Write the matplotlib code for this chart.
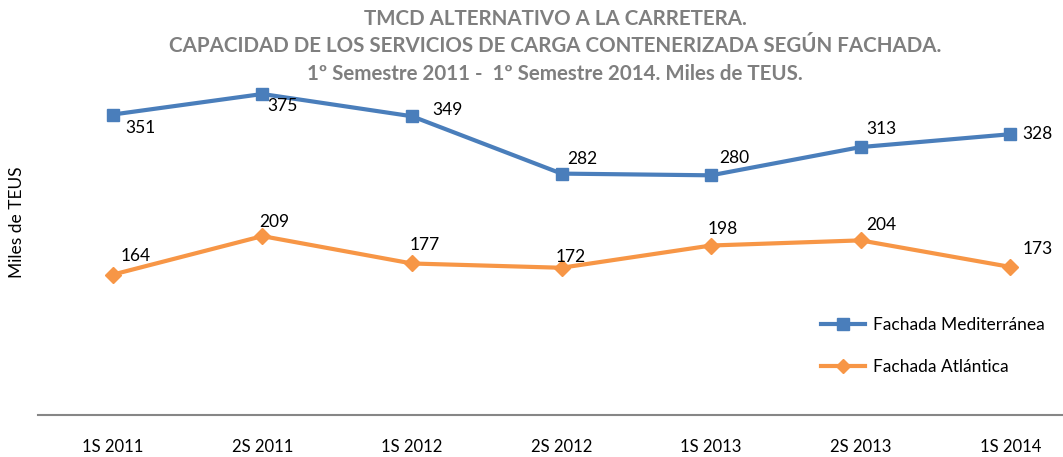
import matplotlib.pyplot as plt
from matplotlib.lines import Line2D

plt.rcParams["font.family"] = ["Lato", "DejaVu Sans"]

categories = ["1S 2011", "2S 2011", "1S 2012", "2S 2012", "1S 2013", "2S 2013", "1S 2014"]
mediterranea = [351, 375, 349, 282, 280, 313, 328]
atlantica = [164, 209, 177, 172, 198, 204, 173]

# label offsets (pixels) tuned by eye
med_offsets = [(13, -13), (5, -12), (20, 6), (6, 15), (8, 17), (6, 18), (12, 0)]
atl_offsets = [(8, 19), (-3, 14), (-2, 18), (-6, 11), (-3, 17), (6, 15), (12, 18)]

W, H = 1063, 457
fig = plt.figure(figsize=(W / 100, H / 100), dpi=100)
x0, x1 = 38, 1085
y_bottom, y_top = 415, 415 - 400 * 0.856
ax = fig.add_axes([x0 / W, (H - y_bottom) / H, (x1 - x0) / W, (y_bottom - y_top) / H])

blue = "#4a7ebb"
orange = "#f79646"
xs = range(len(categories))

ax.plot(xs, mediterranea, color=blue, lw=3, marker="s", ms=9, clip_on=False)
ax.plot(xs, atlantica, color=orange, lw=3, marker="D", ms=8, clip_on=False)

for x, v, (dx, dy) in zip(xs, mediterranea, med_offsets):
    ax.annotate(str(v), (x, v), xytext=(dx, dy), textcoords="offset pixels",
                ha="left", va="center", fontsize=12.5)
for x, v, (dx, dy) in zip(xs, atlantica, atl_offsets):
    ax.annotate(str(v), (x, v), xytext=(dx, dy), textcoords="offset pixels",
                ha="left", va="center", fontsize=12.5)

ax.set_xlim(-0.5, len(categories) - 0.5)
ax.set_ylim(0, 400)
ax.set_yticks([])
ax.set_xticks(list(xs))
ax.set_xticklabels(categories, fontsize=12)
ax.tick_params(axis="x", length=0, pad=17)
for side in ["top", "right", "left"]:
    ax.spines[side].set_visible(False)
ax.spines["bottom"].set_color("#868686")
ax.spines["bottom"].set_linewidth(1.5)

fig.text(17 / W, 1 - 222 / H, "Miles de TEUS", rotation=90, ha="center", va="center",
         fontsize=12.5)

title_lines = [
    "TMCD ALTERNATIVO A LA CARRETERA.",
    "CAPACIDAD DE LOS SERVICIOS DE CARGA CONTENERIZADA SEGÚN FACHADA.",
    "1º Semestre 2011 -  1º Semestre 2014. Miles de TEUS.",
]
for i, line in enumerate(title_lines):
    fig.text(555 / W, 1 - (19 + 27.5 * i) / H, line, ha="center", va="center",
             fontsize=14.8, fontweight="bold", color="#7f7f7f")

handles = [
    Line2D([], [], color=blue, lw=3, marker="s", ms=9),
    Line2D([], [], color=orange, lw=3, marker="D", ms=7),
]
fig.legend(handles, ["Fachada Mediterránea", "Fachada Atlántica"],
           loc="center left", bbox_to_anchor=(805 / W, 1 - 346 / H), frameon=False,
           fontsize=12.5, handlelength=2.55, labelspacing=1.45, handletextpad=0.45)

fig.savefig("out.png", dpi=100)
